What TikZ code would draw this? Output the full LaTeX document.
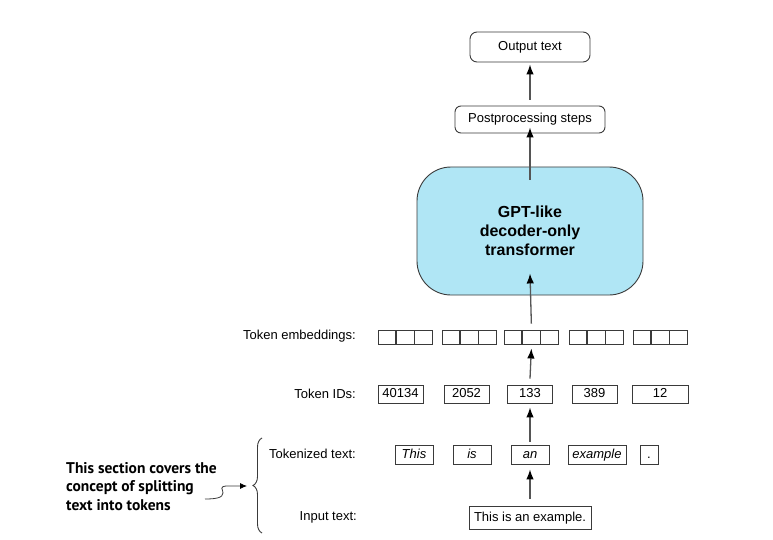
\documentclass[tikz,border=0pt]{standalone}
\usepackage{fontspec}
\setmainfont{Liberation Sans}
\newfontfamily\notefont{PT Sans}
\usetikzlibrary{arrows.meta,decorations.pathreplacing}
\definecolor{lineg}{HTML}{3A3A3A}
\definecolor{arrg}{HTML}{555555}
\definecolor{gptfill}{HTML}{B0E6F5}
\tikzset{
  every node/.style={font=\fontsize{13}{15}\selectfont, text=black},
  box/.style={draw=lineg, line width=0.9pt, inner sep=0pt, minimum height=18pt, text height=9.5pt, text depth=2.5pt},
  rbox/.style={box, rounded corners=7pt},
  sq/.style={draw=lineg, line width=0.9pt, inner sep=0pt, minimum width=17.3pt, minimum height=14pt},
  lab/.style={anchor=east, inner sep=0pt},
  arr/.style={draw=arrg, line width=1.3pt, -{Latex[length=10pt,width=7.5pt,color=black]}},
}
\begin{document}
\begin{tikzpicture}[x=1pt,y=-1pt]
\useasboundingbox (0,0) rectangle (773,540);

% top boxes
\node[rbox, minimum width=120pt, minimum height=30pt] (out) at (530,47) {Output text};
\node[rbox, minimum width=150pt, minimum height=27pt, rounded corners=6pt] (post) at (530,119.5) {Postprocessing steps};
\node[draw=lineg, line width=0.9pt, fill=gptfill, rounded corners=34pt, minimum width=226pt, minimum height=128pt, align=center,
  font=\fontsize{16}{19}\selectfont\bfseries] (gpt) at (530,231) {GPT-like\\decoder-only\\transformer};

% labels
\node[lab] (lemb) at (356,336) {Token embeddings:};
\node[lab] (lids) at (356,394) {Token IDs:};
\node[lab] (ltok) at (356,454) {Tokenized text:};
\node[lab] (linp) at (357,517) {Input text:};

% embeddings
\foreach \g/\x in {1/378,2/442,3/504.05,4/569,5/633}{
  \node[sq, anchor=west] (e\g a) at (\x,337) {};
  \node[sq, anchor=west] (e\g b) at (e\g a.east) {};
  \node[sq, anchor=west] (e\g c) at (e\g b.east) {};
}

% token IDs
\node[box, minimum width=45pt] (id1) at (400.5,394) {40134};
\node[box, minimum width=45pt] (id2) at (466.5,394) {2052};
\node[box, minimum width=45pt] (id3) at (530,394) {133};
\node[box, minimum width=45pt] (id4) at (594.5,394) {389};
\node[box, minimum width=56pt] (id5) at (660,394) {12};

% tokenized text
\tikzset{tk/.style={box, minimum height=19pt, font=\fontsize{13}{15}\selectfont\itshape}}
\node[tk, minimum width=38pt] (t1) at (414,454.5) {This};
\node[tk, minimum width=38pt] (t2) at (472,454.5) {is};
\node[tk, minimum width=38pt] (t3) at (530,454.5) {an};
\node[tk, minimum width=58pt] (t4) at (597,454.5) {example};
\node[box, minimum width=18pt, minimum height=19pt] (t5) at (649,454.5) {.};

% input
\node[box, minimum width=122pt, minimum height=23pt] (inp) at (530,517.5) {This is an example.};

% arrows
\draw[arr] ([yshift=7pt]inp.north) -- ([yshift=-5pt]t3.south);
\draw[arr] ([yshift=3pt]t3.north) -- ([yshift=-4pt]id3.south);
\draw[arr] ([yshift=6pt]id3.north) -- ([yshift=-4pt]e3b.south);
\draw[arr] ([yshift=6pt]e3b.north) -- ([yshift=22pt]gpt.south);
\draw[arr] ([yshift=-13pt]gpt.north) -- ([yshift=6pt]post.south);
\draw[arr] ([yshift=6pt]post.north) -- ([yshift=-2pt]out.south);

% brace
\coordinate (bb) at (262,533);
\coordinate (bt) at (262,438);
\draw[lineg, line width=0.9pt, decorate, decoration={brace, amplitude=9pt}] (bb) -- (bt);
\coordinate (btip) at (250,486);

% note
\node[anchor=north west, inner sep=0pt, align=left, font=\notefont\fontsize{15.5}{18.5}\selectfont\bfseries] (note) at (66,462)
  {This section covers the\\concept of splitting\\text into tokens};
\coordinate (sqs) at (205,499);
\draw[lineg, line width=0.8pt, -{Latex[length=7pt,width=6pt,color=black]}] (sqs) .. controls (215,499) and (223,498) .. (223,493)
  .. controls (223,489) and (219,487) .. (226,486) -- ([xshift=-3pt]btip);
\end{tikzpicture}
\end{document}
